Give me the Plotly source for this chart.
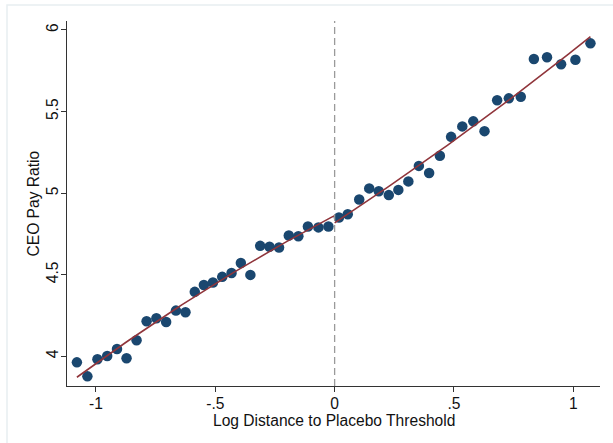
import numpy as np
import plotly.graph_objects as go

# Binned scatter data
x_bins = [-1.080, -1.036, -0.994, -0.953, -0.912, -0.872, -0.830, -0.788, -0.747, -0.706,
          -0.665, -0.625, -0.586, -0.548, -0.510, -0.471, -0.432, -0.393, -0.353, -0.312,
          -0.273, -0.233, -0.192, -0.152, -0.112, -0.068, -0.026, 0.018, 0.055, 0.103,
          0.145, 0.185, 0.227, 0.267, 0.309, 0.353, 0.396, 0.441, 0.488, 0.535,
          0.581, 0.628, 0.681, 0.730, 0.780, 0.835, 0.890, 0.949, 1.009, 1.072]
y_means = [3.963, 3.877, 3.982, 4.002, 4.045, 3.988, 4.098, 4.215, 4.233, 4.210,
           4.280, 4.270, 4.395, 4.437, 4.452, 4.487, 4.511, 4.572, 4.499, 4.677,
           4.671, 4.667, 4.740, 4.736, 4.796, 4.790, 4.796, 4.851, 4.871, 4.961,
           5.029, 5.012, 4.988, 5.020, 5.072, 5.167, 5.123, 5.229, 5.345, 5.409,
           5.440, 5.380, 5.569, 5.581, 5.591, 5.822, 5.833, 5.790, 5.818, 5.918]

x_tickvals = [-1, -0.5, 0, 0.5, 1]
x_ticktext = ["-1", "-.5", "0", ".5", "1"]
y_tickvals = [4, 4.5, 5, 5.5, 6]
y_ticktext = ["4", "4.5", "5", "5.5", "6"]

x_title = "Log Distance to Placebo Threshold"
y_title = "CEO Pay Ratio"
cutoff = 0.0

xa = np.array(x_bins)
ya = np.array(y_means)

fig = go.Figure()

fig.add_trace(go.Scatter(x=x_bins, y=y_means, mode="markers",
                         marker=dict(color="#1a476f", size=10.5, line=dict(width=0)),
                         showlegend=False))

# quadratic fit on each side of the cutoff
for mask, lo, hi in [(xa < cutoff, xa.min(), cutoff), (xa >= cutoff, cutoff, xa.max())]:
    c = np.polyfit(xa[mask], ya[mask], 2)
    xs = np.linspace(lo, hi, 60)
    fig.add_trace(go.Scatter(x=xs, y=np.polyval(c, xs), mode="lines",
                             line=dict(color="#90353b", width=1.6), showlegend=False,
                             hoverinfo="skip"))

fig.add_shape(type="line", xref="x", yref="paper", x0=cutoff, x1=cutoff, y0=0, y1=1,
              line=dict(color="#9a9a9a", width=1.3, dash="7px,4px"))

# faint outer graph-region border
fig.add_shape(type="rect", xref="paper", yref="paper", x0=-60/533, x1=1.2, y0=-0.3, y1=1 + 16/365,
              line=dict(color="#e8eef1", width=1.5), fillcolor="rgba(0,0,0,0)", layer="below")

font = dict(family="Liberation Sans, Arial, sans-serif", size=15.6, color="#111111")

fig.add_annotation(text=x_title, xref="paper", yref="paper", x=0.5, y=-34/365,
                   xanchor="center", yanchor="middle", showarrow=False, font=font)
fig.add_annotation(text=y_title, xref="paper", yref="paper", x=-34/533, y=0.5,
                   xanchor="center", yanchor="middle", showarrow=False, font=font, textangle=-90)

fig.update_layout(
    width=613, height=443,
    margin=dict(l=67, r=13, t=21, b=57),
    paper_bgcolor="white", plot_bgcolor="white",
    font=font,
    xaxis=dict(range=[-1.1215, 1.112], tickvals=x_tickvals, ticktext=x_ticktext,
               showgrid=False, zeroline=False, showline=True, linecolor="#333333", linewidth=1,
               ticks="outside", ticklen=5, tickcolor="#333333", automargin=False,
               ticklabelstandoff=-2),
    yaxis=dict(range=[3.818, 6.055], tickvals=y_tickvals, ticktext=y_ticktext,
               showgrid=False, zeroline=False, showline=True, linecolor="#333333", linewidth=1,
               ticks="outside", ticklen=5, tickcolor="#333333", tickangle=-90, automargin=False,
               ticklabelstandoff=-3),
)

fig.write_html("out.html", config={"displayModeBar": False},
               post_script="document.body.style.margin='0px';")
